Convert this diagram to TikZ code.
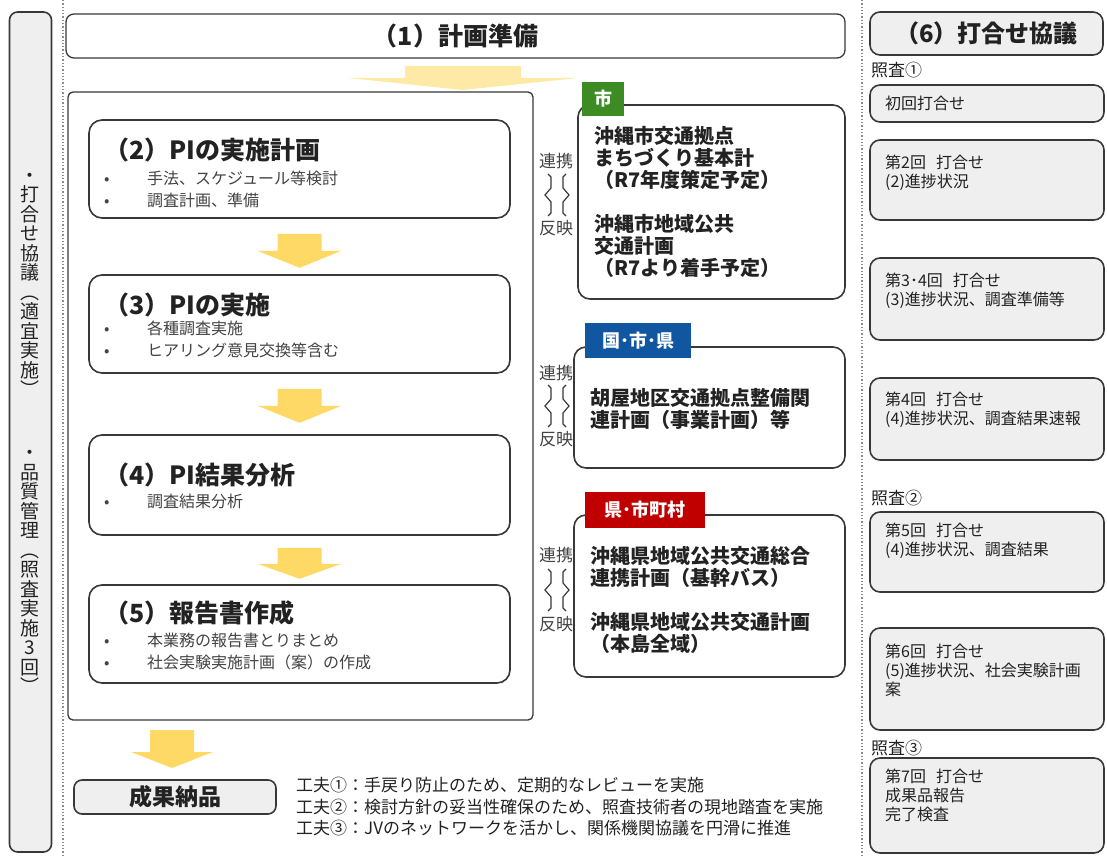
\documentclass[tikz,border=0pt]{standalone}
\usepackage{fontspec}
\setmainfont{Noto Sans CJK JP}
\usetikzlibrary{positioning}

\definecolor{boxline}{HTML}{383838}
\definecolor{panelgray}{HTML}{EFEFEF}
\definecolor{bodytext}{HTML}{222222}
\definecolor{arrowyellow}{HTML}{FFD966}
\definecolor{arrowpale}{HTML}{FFE9A6}
\definecolor{tagcity}{RGB}{60,140,35}
\definecolor{tagnation}{RGB}{16,86,160}
\definecolor{tagpref}{RGB}{192,0,0}
\definecolor{sepgray}{HTML}{8C8C8C}

\newcommand\blt{\makebox[47pt][l]{\hspace{4pt}•}}

\tikzset{
  frame/.style={draw=boxline, line width=1.3pt, rounded corners=5pt, fill=white, inner sep=0pt, text=bodytext},
  procbox/.style={draw=boxline, line width=1.6pt, rounded corners=13pt, fill=white, inner sep=0pt},
  graybox/.style={draw=boxline, line width=1.6pt, rounded corners=10pt, fill=panelgray, inner sep=0pt, text=bodytext},
  tagbox/.style={fill=#1, text=white, inner sep=0pt, font=\fontsize{18}{20}\selectfont\bfseries},
  ptitle/.style={anchor=west, inner sep=0pt, text=bodytext, font=\fontsize{25}{27}\selectfont\bfseries},
  plist/.style={anchor=north west, inner sep=0pt, align=left, text=bodytext!85!white, font=\fontsize{16}{22}\selectfont},
  rtext/.style={anchor=north west, inner sep=0pt, align=left, text=bodytext, font=\fontsize{20}{22}\selectfont\bfseries},
  linktxt/.style={inner sep=0pt, text=bodytext!85!white, font=\fontsize{17}{19}\selectfont},
  mtext/.style={anchor=north west, inner sep=0pt, align=left, text=bodytext, font=\fontsize{16}{19}\selectfont},
  chk/.style={anchor=west, inner sep=0pt, text=bodytext, font=\fontsize{17}{19}\selectfont},
  vtext/.style={inner sep=0pt, align=center, text=bodytext, font=\fontsize{19}{19.5}\selectfont},
  sepline/.style={draw=sepgray, dotted, line width=1.3pt},
  pics/downarrow/.style n args={5}{code={
    \fill[#5] (-#1,0) -- (#1,0) -- (#1,#3) -- (#2,#3) -- (0,#4) -- (-#2,#3) -- (-#1,#3) -- cycle;
  }},
  pics/linkmark/.style={code={
    \draw[boxline, line width=1.2pt] (-9,-21) -- (-6,-18) -- (-6,-7) -- (-12,0) -- (-6,7) -- (-6,18) -- (-9,21);
    \draw[boxline, line width=1.2pt] (9,-21) -- (6,-18) -- (6,-7) -- (12,0) -- (6,7) -- (6,18) -- (9,21);
  }},
}

\begin{document}
\begin{tikzpicture}[x=1pt, y=-1pt]
  \useasboundingbox (0,0) rectangle (1107,858);

  \draw[sepline] (63,0) -- (63,858);
  \draw[sepline] (862,0) -- (862,858);

  % left side bar
  \node[graybox, minimum width=42pt, minimum height=840pt, rounded corners=8pt] (side) at (30.5,432) {};
  \node[vtext] (v1) at (30,285) {・\\打\\合\\せ\\協\\議\\︵\\適\\宜\\実\\施\\︶};
  \node[vtext] (v2) at (30,572) {・\\品\\質\\管\\理\\︵\\照\\査\\実\\施\\3\\回\\︶};

  \node[frame, minimum width=779pt, minimum height=44pt, rounded corners=8pt, font=\fontsize{25}{27}\selectfont\bfseries] (plan) at (455.5,36) {（1）計画準備};
  \pic at (463,66) {downarrow={58}{115}{12}{24}{arrowpale}};

  \node[frame, minimum width=465pt, minimum height=628pt] (main) at (300.5,406) {};

  \node[procbox, minimum width=421pt, minimum height=98pt] (b2) at (299.5,169) {};
  \node[ptitle] (t2) at (104,150) {（2）PIの実施計画};
  \node[plist] (l2) at (100,171) {\blt 手法、スケジュール等検討\\\blt 調査計画、準備};
  \pic at ([yshift=-15pt]b2.south) {downarrow={22}{42}{17}{34}{arrowyellow}};

  \node[procbox, minimum width=421pt, minimum height=98pt] (b3) at (299.5,324) {};
  \node[ptitle] (t3) at (104,305) {（3）PIの実施};
  \node[plist] (l3) at (100,321) {\blt 各種調査実施\\\blt ヒアリング意見交換等含む};
  \pic at ([yshift=-15pt]b3.south) {downarrow={22}{42}{17}{34}{arrowyellow}};

  \node[procbox, minimum width=421pt, minimum height=100pt] (b4) at (299.5,485) {};
  \node[ptitle] (t4) at (104,475) {（4）PI結果分析};
  \node[plist] (l4) at (100,494) {\blt 調査結果分析};
  \pic at ([yshift=-12pt]b4.south) {downarrow={22}{42}{16}{31}{arrowyellow}};

  \node[procbox, minimum width=421pt, minimum height=98pt] (b5) at (299.5,634) {};
  \node[ptitle] (t5) at (104,613) {（5）報告書作成};
  \node[plist] (l5) at (100,633) {\blt 本業務の報告書とりまとめ\\\blt 社会実験実施計画（案）の作成};

  % related plans
  \node[procbox, minimum width=267pt, minimum height=194pt, rounded corners=12pt] (ca) at (711.5,202) {};
  \node[tagbox=tagcity, minimum width=42pt, minimum height=34pt] (ta) at (603,99) {市};
  \node[rtext] (ra) at (594,126) {沖縄市交通拠点\\まちづくり基本計\\（R7年度策定予定）\\[22pt]沖縄市地域公共\\交通計画\\（R7より着手予定）};
  \node[linktxt] (lk1) at (556,161) {連携};
  \node[linktxt] (rf1) at (556,228) {反映};
  \pic at (557,195) {linkmark};

  \node[procbox, minimum width=271pt, minimum height=121pt, rounded corners=12pt] (cb) at (709.5,407.5) {};
  \node[tagbox=tagnation, minimum width=106pt, minimum height=35pt] (tb) at (638,340.5) {国･市･県};
  \node[rtext] (rb) at (590,388) {胡屋地区交通拠点整備関\\連計画（事業計画）等};
  \node[linktxt] (lk2) at (556,373) {連携};
  \node[linktxt] (rf2) at (556,439) {反映};
  \pic at (557,406) {linkmark};

  \node[procbox, minimum width=271pt, minimum height=162pt, rounded corners=12pt] (cc) at (709.5,596) {};
  \node[tagbox=tagpref, minimum width=120pt, minimum height=36pt] (tc) at (645,510) {県･市町村};
  \node[rtext] (rc) at (590,546) {沖縄県地域公共交通総合\\連携計画（基幹バス）\\[22pt]沖縄県地域公共交通計画\\（本島全域）};
  \node[linktxt] (lk3) at (556,555) {連携};
  \node[linktxt] (rf3) at (556,624) {反映};
  \pic at (557,590) {linkmark};

  % meetings
  \node[graybox, minimum width=233pt, minimum height=43pt, font=\fontsize{24}{26}\selectfont\bfseries] (mt) at (986.5,33.5) {（6）打合せ協議};
  \node[chk] (c1) at (871,70) {照査①};
  \node[graybox, minimum width=234pt, minimum height=37pt] (m1) at (987,103.5) {};
  \node[mtext, anchor=west] (m1t) at (885,103.5) {初回打合せ};
  \node[graybox, minimum width=234pt, minimum height=80pt] (m2) at (987,180) {};
  \node[mtext] (m2t) at (885,155) {第2回\hspace{10pt}打合せ\\(2)進捗状況};
  \node[graybox, minimum width=234pt, minimum height=82pt] (m3) at (987,299) {};
  \node[mtext] (m3t) at (885,273) {第3･4回\hspace{10pt}打合せ\\(3)進捗状況、調査準備等};
  \node[graybox, minimum width=234pt, minimum height=82pt] (m4) at (987,419) {};
  \node[mtext] (m4t) at (885,392) {第4回\hspace{10pt}打合せ\\(4)進捗状況、調査結果速報};
  \node[chk] (c2) at (871,498) {照査②};
  \node[graybox, minimum width=234pt, minimum height=80pt] (m5) at (987,552) {};
  \node[mtext] (m5t) at (885,523) {第5回\hspace{10pt}打合せ\\(4)進捗状況、調査結果};
  \node[graybox, minimum width=234pt, minimum height=102pt] (m6) at (987,679) {};
  \node[mtext] (m6t) at (885,644) {第6回\hspace{10pt}打合せ\\(5)進捗状況、社会実験計画\\案};
  \node[chk] (c3) at (871,748) {照査③};
  \node[graybox, minimum width=234pt, minimum height=95pt] (m7) at (987,805.5) {};
  \node[mtext] (m7t) at (885,769) {第7回\hspace{10pt}打合せ\\成果品報告\\完了検査};

  % output
  \pic at (172,730) {downarrow={22}{41}{22}{38}{arrowyellow}};
  \node[graybox, minimum width=202pt, minimum height=34pt, rounded corners=8pt, font=\fontsize{23}{25}\selectfont\bfseries] (out) at (175,797) {成果納品};
  \node[anchor=north west, inner sep=0pt, align=left, text=bodytext, font=\fontsize{17}{21.5}\selectfont] (tips) at (296,777) {工夫①：手戻り防止のため、定期的なレビューを実施\\工夫②：検討方針の妥当性確保のため、照査技術者の現地踏査を実施\\工夫③：JVのネットワークを活かし、関係機関協議を円滑に推進};
\end{tikzpicture}
\end{document}
